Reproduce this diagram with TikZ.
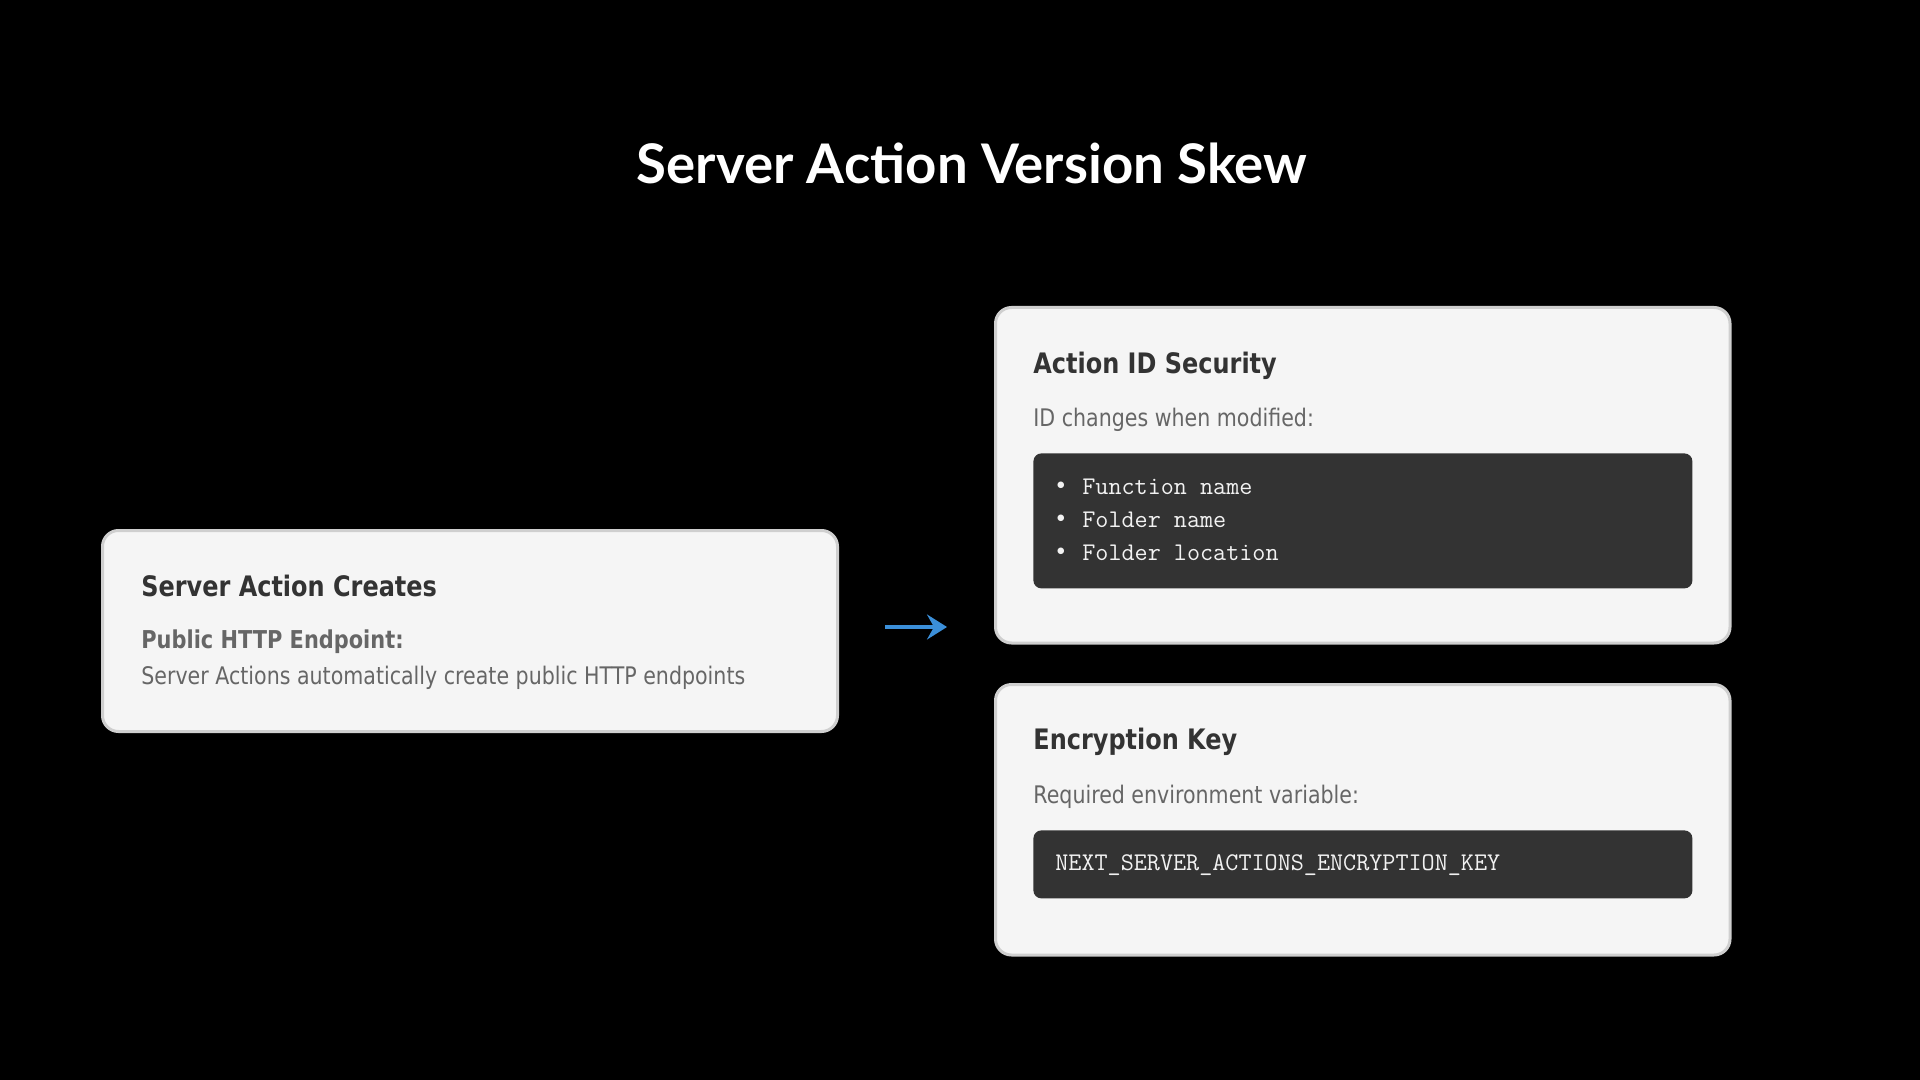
\documentclass[tikz,border=0pt]{standalone}
\usepackage{fontspec}
\setmainfont{DejaVu Sans}[FakeStretch=0.85]
\newfontfamily\headfont{Lato}
\usetikzlibrary{positioning,calc,arrows.meta}

\definecolor{pagebg}{HTML}{000000}
\definecolor{cardbg}{HTML}{F5F5F5}
\definecolor{cardline}{HTML}{CFCFCF}
\definecolor{codebg}{HTML}{333333}
\definecolor{codetext}{HTML}{F2F2F2}
\definecolor{titletext}{HTML}{333333}
\definecolor{bodytext}{HTML}{666666}
\definecolor{arrowblue}{HTML}{3B8FD9}

\tikzset{
  card/.style={draw=cardline, line width=1.5pt, fill=cardbg, rounded corners=8pt,
    anchor=north west, inner sep=0pt},
  codebox/.style={fill=codebg, rounded corners=4pt, anchor=north west, inner sep=0pt},
  cardtitle/.style={anchor=west, inner sep=0pt, text=titletext,
    font=\bfseries\fontsize{14.1}{16}\selectfont},
  cardsub/.style={anchor=west, inner sep=0pt, text=bodytext,
    font=\bfseries\fontsize{12.3}{14}\selectfont},
  cardbody/.style={anchor=west, inner sep=0pt, text=bodytext,
    font=\fontsize{12.1}{14}\selectfont},
  codeline/.style={anchor=west, inner sep=0pt, text=codetext,
    font=\ttfamily\fontsize{12.7}{15}\selectfont},
}

\begin{document}
\begin{tikzpicture}[x=0.5pt,y=-0.5pt]
    % Background
    \fill[pagebg] (0,0) rectangle (1920,1080);
    \useasboundingbox (0,0) rectangle (1920,1080);

    % Title
    \node[text=white, font=\headfont\bfseries\fontsize{27.3}{31}\selectfont] (title) at (972,163) {Server Action Version Skew};

    % Left card
    \node[card, minimum width=367.5pt, minimum height=100.5pt] (creates) at (101,529) {};
    \node[cardtitle] (createstitle) at (141,586) {Server Action Creates};
    \node[cardsub] (endpointsub) at (141,642) {Public HTTP Endpoint:};
    \node[cardbody] (endpointbody) at (141,678) {Server Actions automatically create public HTTP endpoints};

    % Arrow
    \coordinate (arrowtail) at (885,627);
    \coordinate (arrowtip) at (947,627);
    \draw[arrowblue, line width=2pt, -{Stealth[length=10pt, width=12.5pt, inset=3.5pt]}] (arrowtail) -- (arrowtip);

    % Right top card
    \node[card, minimum width=367.25pt, minimum height=167.75pt] (security) at (994,306) {};
    \node[cardtitle] (securitytitle) at (1033,366) {Action ID Security};
    \node[cardbody] (securitybody) at (1033,420) {ID changes when modified:};
    \node[codebox, minimum width=329.5pt, minimum height=67.5pt] (securitycode) at (1033,453) {};
    \foreach \y/\item [count=\i] in {487/Function name, 520/Folder name, 553/Folder location} {
        \node[codeline, anchor=center] (bulletdot\i) at (1061,\y) {\textbullet};
        \node[codeline] (bullettext\i) at (1082,\y) {\item};
    }

    % Right bottom card
    \node[card, minimum width=367.25pt, minimum height=135.25pt] (enckey) at (994,683) {};
    \node[cardtitle] (enckeytitle) at (1033,742) {Encryption Key};
    \node[cardbody] (enckeybody) at (1033,797) {Required environment variable:};
    \node[codebox, minimum width=329.5pt, minimum height=34pt] (enckeycode) at (1033,830) {};
    \node[codeline] (enckeyvar) at (1055,865) {NEXT\_SERVER\_ACTIONS\_ENCRYPTION\_KEY};
\end{tikzpicture}
\end{document}
